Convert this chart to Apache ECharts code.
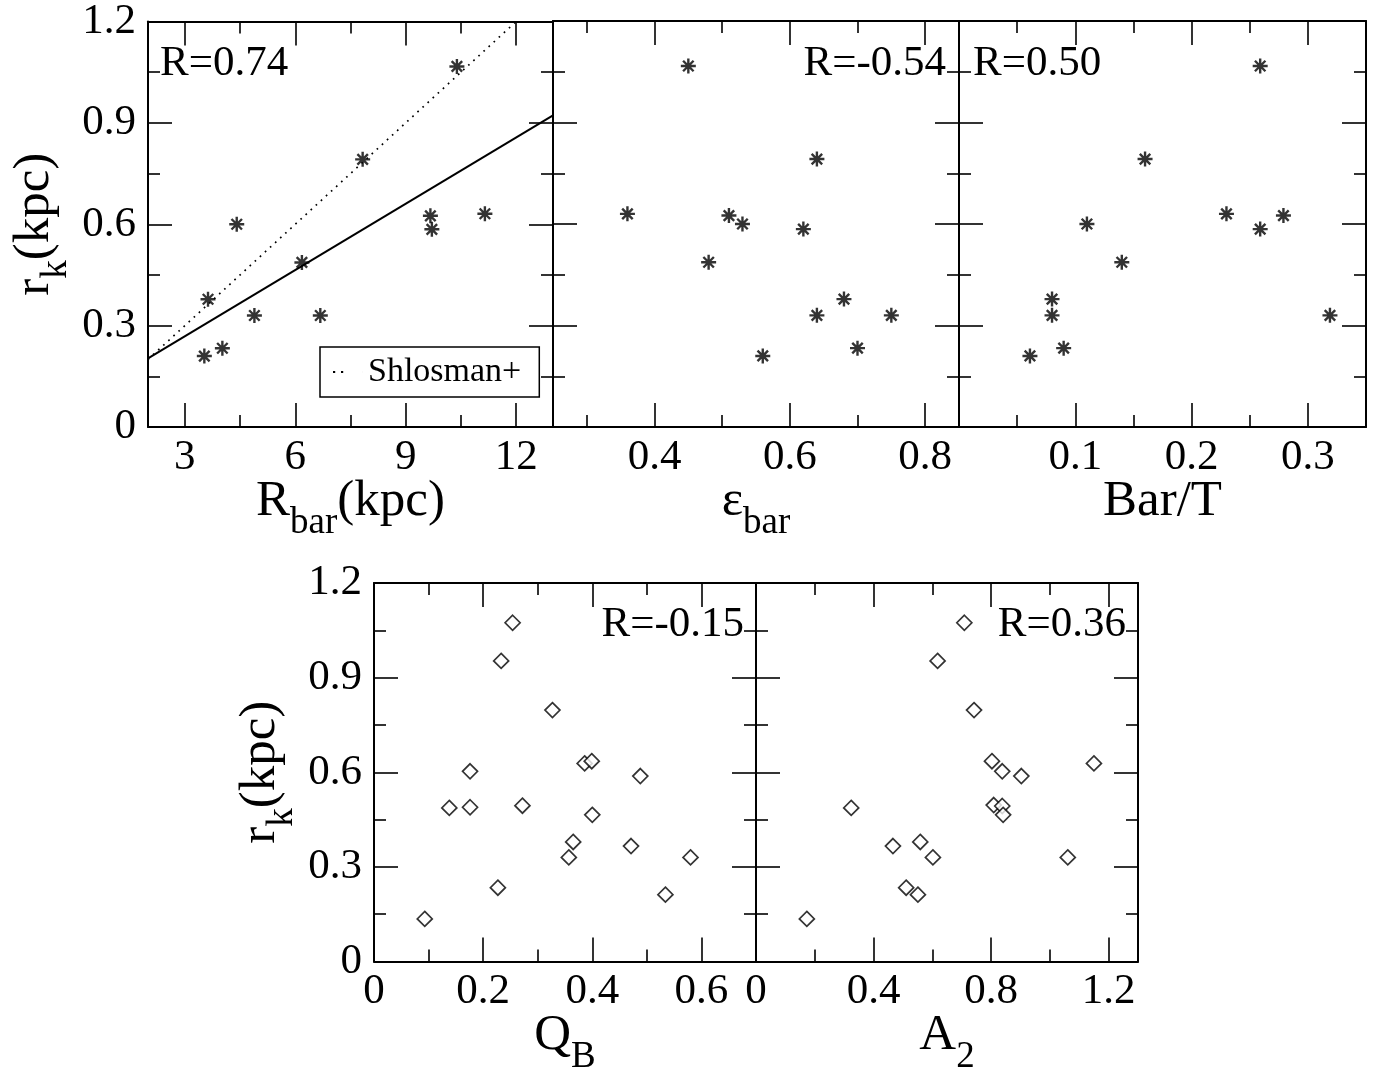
<!DOCTYPE html>
<html>
<head>
<meta charset="utf-8">
<script src="https://cdn.jsdelivr.net/npm/echarts@6.0.0/dist/echarts.min.js"></script>
<style>
html,body{margin:0;padding:0;background:#fff;}
#chart{width:1386px;height:1077px;}
</style>
</head>
<body>
<div id="chart"></div>
<script>
// ---------- data ----------
// Panel 1: r_k vs R_bar (kpc)
const rbarX = [3.53, 4.02, 3.63, 4.41, 4.89, 6.18, 6.68, 7.83, 9.67, 9.71, 11.15, 10.39];
const rbarY = [0.210, 0.233, 0.378, 0.600, 0.330, 0.487, 0.330, 0.792, 0.625, 0.585, 0.631, 1.067];
const fitLine = [[2, 0.203], [13, 0.922]];
const shlosmanLine = [[2, 0.2], [12, 1.2]];
// Panel 2: r_k vs eps_bar
const epsX = [0.36, 0.45, 0.48, 0.51, 0.53, 0.56, 0.62, 0.64, 0.64, 0.68, 0.70, 0.75];
const epsY = [0.630, 1.067, 0.487, 0.625, 0.600, 0.210, 0.585, 0.792, 0.330, 0.378, 0.233, 0.330];
// Panel 3: r_k vs Bar/T
const barTX = [0.061, 0.080, 0.080, 0.090, 0.110, 0.140, 0.160, 0.230, 0.259, 0.259, 0.279, 0.319];
const barTY = [0.210, 0.378, 0.330, 0.233, 0.600, 0.487, 0.792, 0.630, 1.067, 0.585, 0.625, 0.330];
// Panel 4: r_k vs Q_B
const qbX = [0.093, 0.138, 0.176, 0.176, 0.227, 0.233, 0.254, 0.272, 0.327, 0.357, 0.365, 0.386, 0.399, 0.400, 0.471, 0.488, 0.534, 0.580];
const qbY = [0.135, 0.487, 0.603, 0.489, 0.234, 0.953, 1.074, 0.494, 0.797, 0.330, 0.379, 0.628, 0.635, 0.465, 0.366, 0.588, 0.212, 0.330];
// Panel 5: r_k vs A_2
const a2X = [0.173, 0.324, 0.466, 0.511, 0.551, 0.559, 0.602, 0.618, 0.709, 0.742, 0.803, 0.809, 0.838, 0.838, 0.841, 0.903, 1.061, 1.150];
const a2Y = [0.135, 0.487, 0.366, 0.234, 0.212, 0.379, 0.330, 0.953, 1.074, 0.797, 0.635, 0.496, 0.603, 0.493, 0.465, 0.588, 0.330, 0.628];

// tick values
const yMajor = [0, 0.3, 0.6, 0.9, 1.2];
const yMinor = [0.15, 0.45, 0.75, 1.05];
const p1Major = [3, 6, 9, 12], p1Minor = [4.5, 7.5, 10.5];
const p2Major = [0.4, 0.6, 0.8], p2Minor = [0.3, 0.5, 0.7];
const p3Major = [0.1, 0.2, 0.3], p3Minor = [0.05, 0.15, 0.25];
const p4Major = [0, 0.2, 0.4, 0.6], p4Minor = [0.1, 0.3, 0.5];
const p5Major = [0, 0.4, 0.8, 1.2], p5Minor = [0.2, 0.6, 1.0];

const corrLabels = ['R=0.74', 'R=-0.54', 'R=0.50', 'R=-0.15', 'R=0.36'];
const legendName = 'Shlosman+';

// ---------- layout / style ----------
const FONT = 'Liberation Serif';
const grids = [
  {left: 148, top: 21, width: 405, height: 406},
  {left: 553, top: 21, width: 406, height: 406},
  {left: 959, top: 21, width: 407, height: 406},
  {left: 374, top: 583, width: 382, height: 380},
  {left: 756, top: 583, width: 382, height: 380}
];
const xRanges = [[2, 13], [0.25, 0.85], [0, 0.35], [0, 0.7], [0, 1.3]];
const xMajors = [p1Major, p2Major, p3Major, p4Major, p5Major];
const xMinors = [p1Minor, p2Minor, p3Minor, p4Minor, p5Minor];
const xNames = ['{m|R}{s|bar}{m|(kpc)}', '{m|ε}{s|bar}', '{m|Bar/T}', '{m|Q}{s|B}', '{m|A}{s|2}'];
const yLabelShow = [true, false, false, true, false];
const yNameShow = [true, false, false, true, false];

const rich = {
  m: {fontFamily: FONT, fontSize: 51, lineHeight: 51, color: '#000', verticalAlign: 'top'},
  s: {fontFamily: FONT, fontSize: 37, lineHeight: 94, color: '#000', verticalAlign: 'middle'}
};
const LINE = {color: '#000', width: 2};
const TICK = {color: '#000', width: 1.6};

function axisPair(kind, gi, min, max, majors, minors, pos, showLabel, name) {
  const major = {
    type: 'value', gridIndex: gi, min: min, max: max, position: pos,
    splitLine: {show: false},
    axisLine: {show: true, onZero: false, lineStyle: LINE},
    axisTick: {show: true, inside: true, length: 24, lineStyle: TICK, customValues: majors},
    axisLabel: {show: showLabel, customValues: majors, fontFamily: FONT, fontSize: 43, color: '#000',
                margin: kind === 'x' ? 9 : 12},
    z: 10
  };
  if (name) {
    major.name = name;
    major.nameLocation = 'middle';
    major.nameGap = kind === 'x' ? 49 : 45;
    major.nameMoveOverlap = false;
    major.nameTextStyle = {rich: rich};
  }
  const minor = {
    type: 'value', gridIndex: gi, min: min, max: max, position: pos,
    splitLine: {show: false},
    axisLine: {show: false, onZero: false},
    axisTick: {show: true, inside: true, length: 12, lineStyle: TICK, customValues: minors},
    axisLabel: {show: false},
    z: 10
  };
  return [major, minor];
}

const xAxis = [], yAxis = [];
for (let g = 0; g < 5; g++) {
  const [xmin, xmax] = xRanges[g];
  xAxis.push(...axisPair('x', g, xmin, xmax, xMajors[g], xMinors[g], 'bottom', true, xNames[g]));
  xAxis.push(...axisPair('x', g, xmin, xmax, xMajors[g], xMinors[g], 'top', false, null));
  yAxis.push(...axisPair('y', g, 0, 1.2, yMajor, yMinor, 'left', yLabelShow[g],
                         yNameShow[g] ? '{m|r}{s|k}{m|(kpc)}' : null));
  yAxis.push(...axisPair('y', g, 0, 1.2, yMajor, yMinor, 'right', false, null));
}

const asterisk = 'path://M6,0L6,12M0,6L12,6M1.8,1.8L10.2,10.2M1.8,10.2L10.2,1.8';
function starSeries(g, xs, ys) {
  return {
    type: 'scatter', xAxisIndex: 4 * g, yAxisIndex: 4 * g,
    data: xs.map((v, i) => [v, ys[i]]),
    symbol: asterisk, symbolSize: 15,
    itemStyle: {color: '#000', borderColor: '#000', borderWidth: 2.4},
    silent: true, z: 5
  };
}
function diamondSeries(g, xs, ys) {
  return {
    type: 'scatter', xAxisIndex: 4 * g, yAxisIndex: 4 * g,
    data: xs.map((v, i) => [v, ys[i]]),
    symbol: 'diamond', symbolSize: 15,
    itemStyle: {color: '#fff', borderColor: '#000', borderWidth: 1.7},
    silent: true, z: 5
  };
}

const series = [
  {
    type: 'line', name: 'fit', xAxisIndex: 0, yAxisIndex: 0, data: fitLine,
    symbol: 'none', lineStyle: {color: '#000', width: 2}, silent: true, z: 3
  },
  {
    type: 'line', name: legendName, xAxisIndex: 0, yAxisIndex: 0, data: shlosmanLine,
    symbol: 'none', itemStyle: {color: '#000'},
    lineStyle: {color: '#000', width: 1.7, type: [1.7, 5.2]}, silent: true, z: 3
  },
  starSeries(0, rbarX, rbarY),
  starSeries(1, epsX, epsY),
  starSeries(2, barTX, barTY),
  diamondSeries(3, qbX, qbY),
  diamondSeries(4, a2X, a2Y)
];

const labelPos = [
  {x: 160, y: 64, align: 'left'},
  {x: 946, y: 64, align: 'right'},
  {x: 973, y: 64, align: 'left'},
  {x: 744, y: 625, align: 'right'},
  {x: 1126, y: 625, align: 'right'}
];
const graphic = corrLabels.map((t, i) => ({
  type: 'text', x: labelPos[i].x, y: labelPos[i].y, z: 20,
  style: {
    text: t, fill: '#000', font: '43px "Liberation Serif"',
    align: labelPos[i].align, textAlign: labelPos[i].align,
    verticalAlign: 'middle', textVerticalAlign: 'middle'
  }
}));

// legend sample: two small dots (dotted line sample), padded to 30px wide
const dotIcon = 'path://M0,0h2.2v2.2h-2.2zM8,0h2.2v2.2h-2.2zM29.98,0h0.02v2.2h-0.02z';

const option = {
  animation: false,
  backgroundColor: '#fff',
  grid: grids.map(g => Object.assign({containLabel: false, show: false}, g)),
  xAxis: xAxis,
  yAxis: yAxis,
  legend: {
    data: [{name: legendName, icon: dotIcon}],
    left: 320, top: 347,
    padding: [8, 18, 8, 13],
    borderColor: '#000', borderWidth: 1.5, borderRadius: 0,
    backgroundColor: '#fff',
    itemWidth: 30, itemHeight: 2.2, itemGap: 10,
    selectedMode: false,
    itemStyle: {color: '#000'},
    textStyle: {fontFamily: FONT, fontSize: 34, color: '#000'}
  },
  graphic: graphic,
  series: series
};

const chart = echarts.init(document.getElementById('chart'), null, {renderer: 'canvas'});
chart.setOption(option);
</script>
</body>
</html>
